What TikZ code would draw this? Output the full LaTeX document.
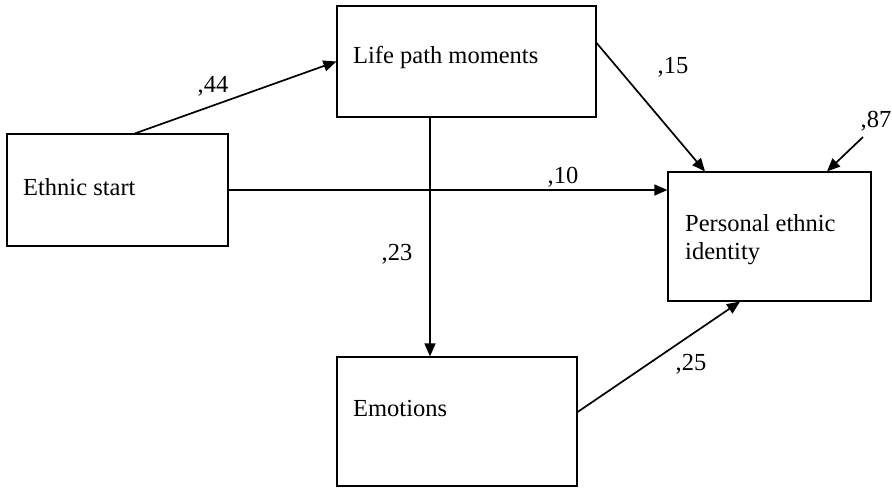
\documentclass[tikz,border=0pt]{standalone}
\usepackage{fontspec}
\setmainfont{Liberation Serif}
\usetikzlibrary{positioning, arrows.meta}

\begin{document}
\begin{tikzpicture}[
  x=1pt, y=-1pt,
  box/.style={draw, line width=1.2pt, inner sep=0pt},
  txt/.style={font=\fontsize{24.5}{28}\selectfont, inner sep=0pt, align=left},
  coef/.style={font=\fontsize{24.5}{28}\selectfont, inner sep=0pt},
  path/.style={line width=1.7pt, -{Triangle[length=13pt, width=11pt]}},
]
  \useasboundingbox (0,0) rectangle (892,488);
  % boxes
  \node[box, minimum width=221pt, minimum height=112pt] (es) at (117.5,190) {};
  \node[box, minimum width=259pt, minimum height=111pt] (lp) at (466.5,61.5) {};
  \node[box, minimum width=240pt, minimum height=129pt] (em) at (457,421.5) {};
  \node[box, minimum width=203pt, minimum height=129pt] (pe) at (769.5,236.5) {};
  \node[txt, anchor=base west] (es-t) at (23,195) {Ethnic start};
  \node[txt, anchor=base west] (lp-t) at (353,63) {Life path moments};
  \node[txt, anchor=base west] (em-t) at (353,416) {Emotions};
  \node[txt, anchor=north west] (pe-t) at (685,214) {Personal ethnic\\identity};
  % paths
  \draw[path] ([xshift=17.5pt]es.north) -- (lp.west);
  \draw[path] ([yshift=18.5pt]lp.east) -- ([xshift=-64.5pt]pe.north);
  \draw[path] (es.east) -- (es.east -| pe.west);
  \draw[path] ([xshift=-36.5pt]lp.south) -- ([xshift=-36.5pt]lp.south |- em.north);
  \draw[path] ([yshift=9.5pt]em.east) -- ([xshift=-29.5pt]pe.south);
  \coordinate (err) at (863,137);
  \draw[path] (err) -- ([xshift=57.5pt]pe.north);
  % coefficients
  \node[coef, anchor=base] (c1) at (213,92) {,44};
  \node[coef, anchor=base] (c2) at (673,73) {,15};
  \node[coef, anchor=base] (c3) at (563,183) {,10};
  \node[coef, anchor=base] (c4) at (397,260) {,23};
  \node[coef, anchor=base] (c5) at (691,370) {,25};
  \node[coef, anchor=base] (c6) at (876,127) {,87};
\end{tikzpicture}
\end{document}
